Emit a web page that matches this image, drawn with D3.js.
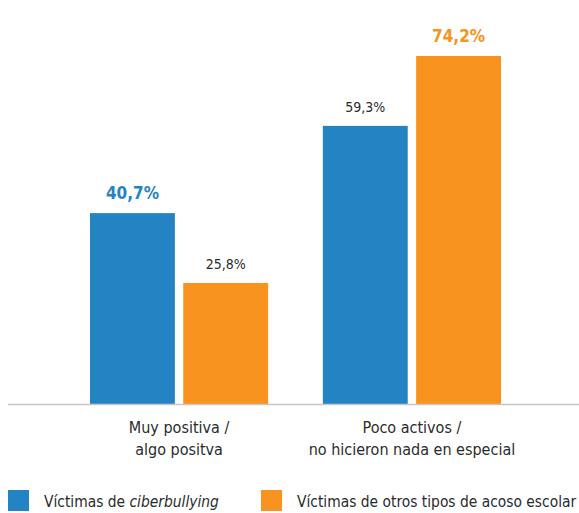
<!DOCTYPE html>
<html><head><meta charset="utf-8">
<script src="https://cdn.jsdelivr.net/npm/d3@7"></script>
<style>body{margin:0;background:#fff;} svg{display:block;}</style>
</head><body>
<svg id="c" width="579" height="513"></svg>
<script>
const categories = [["Muy positiva /","algo positva"],["Poco activos /","no hicieron nada en especial"]];
const seriesNames = ["Víctimas de ciberbullying","Víctimas de otros tipos de acoso escolar"];
const ciberbullying = [40.7, 59.3];
const otrosAcoso = [25.8, 74.2];
const valueLabels = [["40,7%","59,3%"],["25,8%","74,2%"]];
const colors = ["#2484c3","#f7931e"];

const font = "'DejaVu Sans Condensed','DejaVu Sans',sans-serif";
const svg = d3.select("#c");
const base = 404;
const y = d3.scaleLinear().domain([0,100]).range([base, base-469]);
const x0 = d3.scaleBand().domain([0,1]).range([90, 501]).paddingInner(0.235).paddingOuter(0);
const x1 = d3.scaleBand().domain([0,1]).range([0, x0.bandwidth()]).paddingInner(0.09);

const series = [ciberbullying, otrosAcoso];
series.forEach((vals, s) => {
  vals.forEach((v, c) => {
    const bx = x0(c) + x1(s);
    svg.append("rect").attr("x", bx).attr("y", y(v)).attr("width", x1.bandwidth()).attr("height", base - y(v)).attr("fill", colors[s]);
    const other = series[1-s][c];
    const hi = v > other;
    svg.append("text").attr("x", bx + x1.bandwidth()/2).attr("y", y(v) - 14)
      .attr("text-anchor","middle").attr("font-family", font)
      .attr("font-size", hi ? 17 : 14).attr("font-weight", hi ? "bold" : "normal")
      .attr("fill", hi ? colors[s] : "#2b2b2b").text(valueLabels[s][c]);
  });
});

svg.append("line").attr("x1",8).attr("x2",579).attr("y1",base+0.5).attr("y2",base+0.5).attr("stroke","#c6c6c6").attr("stroke-width",1.5);

categories.forEach((lines, c) => {
  const cx = x0(c) + x0.bandwidth()/2;
  lines.forEach((l, i) => {
    svg.append("text").attr("x", cx).attr("y", 433 + i*22).attr("text-anchor","middle")
      .attr("font-family", font).attr("font-size", 16).attr("fill","#2b2b2b").text(l);
  });
});

const legX = [8, 261];
seriesNames.forEach((n, s) => {
  svg.append("rect").attr("x", legX[s]).attr("y", 490).attr("width", 21).attr("height", 21).attr("fill", colors[s]);
  const t = svg.append("text").attr("x", legX[s] + 36).attr("y", 507).attr("font-family", font).attr("font-size", 15.4).attr("fill","#2b2b2b");
  if (s === 0) {
    t.append("tspan").text("Víctimas de ");
    t.append("tspan").attr("font-style","italic").text("ciberbullying");
  } else t.text(n);
});
</script>
</body></html>
